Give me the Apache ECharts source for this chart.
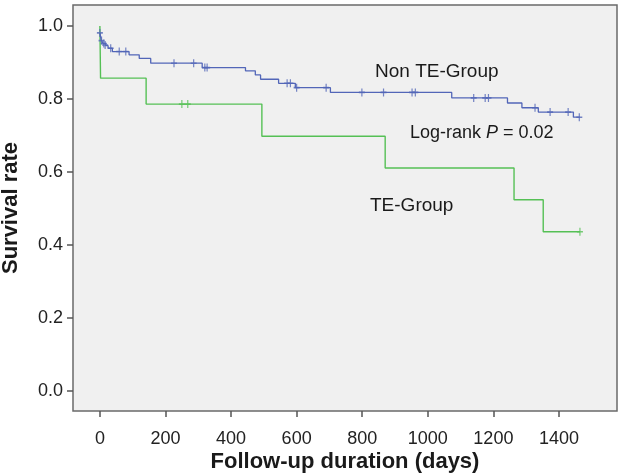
<!DOCTYPE html>
<html>
<head>
<meta charset="utf-8">
<script src="https://cdn.jsdelivr.net/npm/echarts@6/dist/echarts.min.js"></script>
<style>
html,body{margin:0;padding:0;background:#fff;}
#chart{width:624px;height:473px;}
</style>
</head>
<body>
<div id="chart"></div>
<script>
// ---- Data ----
var xTicks = [0, 200, 400, 600, 800, 1000, 1200, 1400];
var yTicks = [0, 0.2, 0.4, 0.6, 0.8, 1.0];

// Non TE-Group: event times and survival level after each step
var nonTeTimes = [0, 4, 10, 18, 25, 38, 89, 120, 155, 312, 444, 474, 490, 545, 596, 703, 1073, 1243, 1287, 1337, 1444, 1464];
var nonTeSurv  = [0.981, 0.962, 0.952, 0.946, 0.939, 0.930, 0.921, 0.911, 0.898, 0.886, 0.877, 0.866, 0.854, 0.843, 0.831, 0.818, 0.803, 0.789, 0.776, 0.764, 0.750, 0.750];
// Non TE-Group censored observations
var nonTeCensorT = [0, 5, 12, 16, 33, 59, 79, 226, 286, 320, 327, 571, 581, 600, 690, 799, 865, 952, 962, 1140, 1175, 1185, 1327, 1373, 1428, 1462];
var nonTeCensorS = [0.981, 0.960, 0.952, 0.948, 0.939, 0.930, 0.930, 0.898, 0.898, 0.886, 0.886, 0.843, 0.843, 0.831, 0.831, 0.818, 0.818, 0.818, 0.818, 0.803, 0.803, 0.803, 0.776, 0.764, 0.764, 0.750];

// TE-Group
var teTimes = [0, 2, 141, 494, 870, 1263, 1352, 1464];
var teSurv  = [1.0, 0.857, 0.786, 0.698, 0.611, 0.524, 0.436, 0.436];
var teCensorT = [250, 268, 1464];
var teCensorS = [0.786, 0.786, 0.436];

function pairs(a, b){ return a.map(function(v,i){ return [v, b[i]]; }); }

var FONT = 'Arial, "Liberation Sans", Helvetica, sans-serif';
var BLUE = '#5266b8';
var GREEN = '#55c055';
var PLUS = 'path://M0,4H10V6H0Z M4,0H6V10H4Z';

var chart = echarts.init(document.getElementById('chart'), null, {renderer:'canvas'});
chart.setOption({
  animation: false,
  backgroundColor: '#ffffff',
  grid: {
    left: 73, right: 7, top: 5, bottom: 62,
    outerBoundsMode: 'none', containLabel: false,
    show: true, backgroundColor: '#f0f0f0', borderColor: '#6a6a6a', borderWidth: 1.5
  },
  xAxis: {
    type: 'value', min: -82, max: 1577,
    name: 'Follow-up duration (days)', nameLocation: 'middle', nameGap: 40, nameMoveOverlap: false,
    nameTextStyle: {fontFamily: FONT, fontSize: 22, fontWeight: 'bold', color: '#1a1a1a'},
    axisLine: {show: false, onZero: false},
    axisTick: {show: true, inside: false, length: 6, lineStyle: {color: '#555', width: 1.5}, customValues: xTicks},
    axisLabel: {fontFamily: FONT, fontSize: 18, color: '#222', margin: 19, customValues: xTicks,
      formatter: function(v){ return String(v); }},
    splitLine: {show: false}
  },
  yAxis: {
    type: 'value', min: -0.055, max: 1.0575,
    name: 'Survival rate', nameLocation: 'middle', nameGap: 51, nameRotate: 90, nameMoveOverlap: false,
    nameTextStyle: {fontFamily: FONT, fontSize: 22, fontWeight: 'bold', color: '#1a1a1a'},
    axisLine: {show: false, onZero: false},
    axisTick: {show: true, inside: false, length: 6, lineStyle: {color: '#555', width: 1.5}, customValues: yTicks},
    axisLabel: {fontFamily: FONT, fontSize: 18, color: '#222', margin: 10, customValues: yTicks,
      formatter: function(v){ return v.toFixed(1); }},
    splitLine: {show: false}
  },
  series: [
    {type: 'line', step: 'end', data: pairs(teTimes, teSurv), showSymbol: false,
     lineStyle: {color: GREEN, width: 1.4}, z: 2},
    {type: 'line', step: 'end', data: pairs(nonTeTimes, nonTeSurv), showSymbol: false,
     lineStyle: {color: BLUE, width: 1.3}, z: 3},
    {type: 'scatter', data: pairs(teCensorT, teCensorS), symbol: PLUS, symbolSize: [6, 8],
     itemStyle: {color: GREEN}, z: 4},
    {type: 'scatter', data: pairs(nonTeCensorT, nonTeCensorS), symbol: PLUS, symbolSize: [6, 8],
     itemStyle: {color: BLUE}, z: 5}
  ],
  graphic: [
    {type: 'text', left: 375, top: 62, style: {text: 'Non TE-Group', font: '19px ' + FONT, fill: '#1a1a1a'}},
    {type: 'text', left: 410, top: 124, style: {
      text: '{n|Log-rank }{i|P}{n| = 0.02}',
      rich: {n: {font: '18px ' + FONT, fill: '#1a1a1a'}, i: {font: 'italic 18px ' + FONT, fill: '#1a1a1a'}}
    }},
    {type: 'text', left: 370, top: 196, style: {text: 'TE-Group', font: '19px ' + FONT, fill: '#1a1a1a'}}
  ]
});
</script>
</body>
</html>
